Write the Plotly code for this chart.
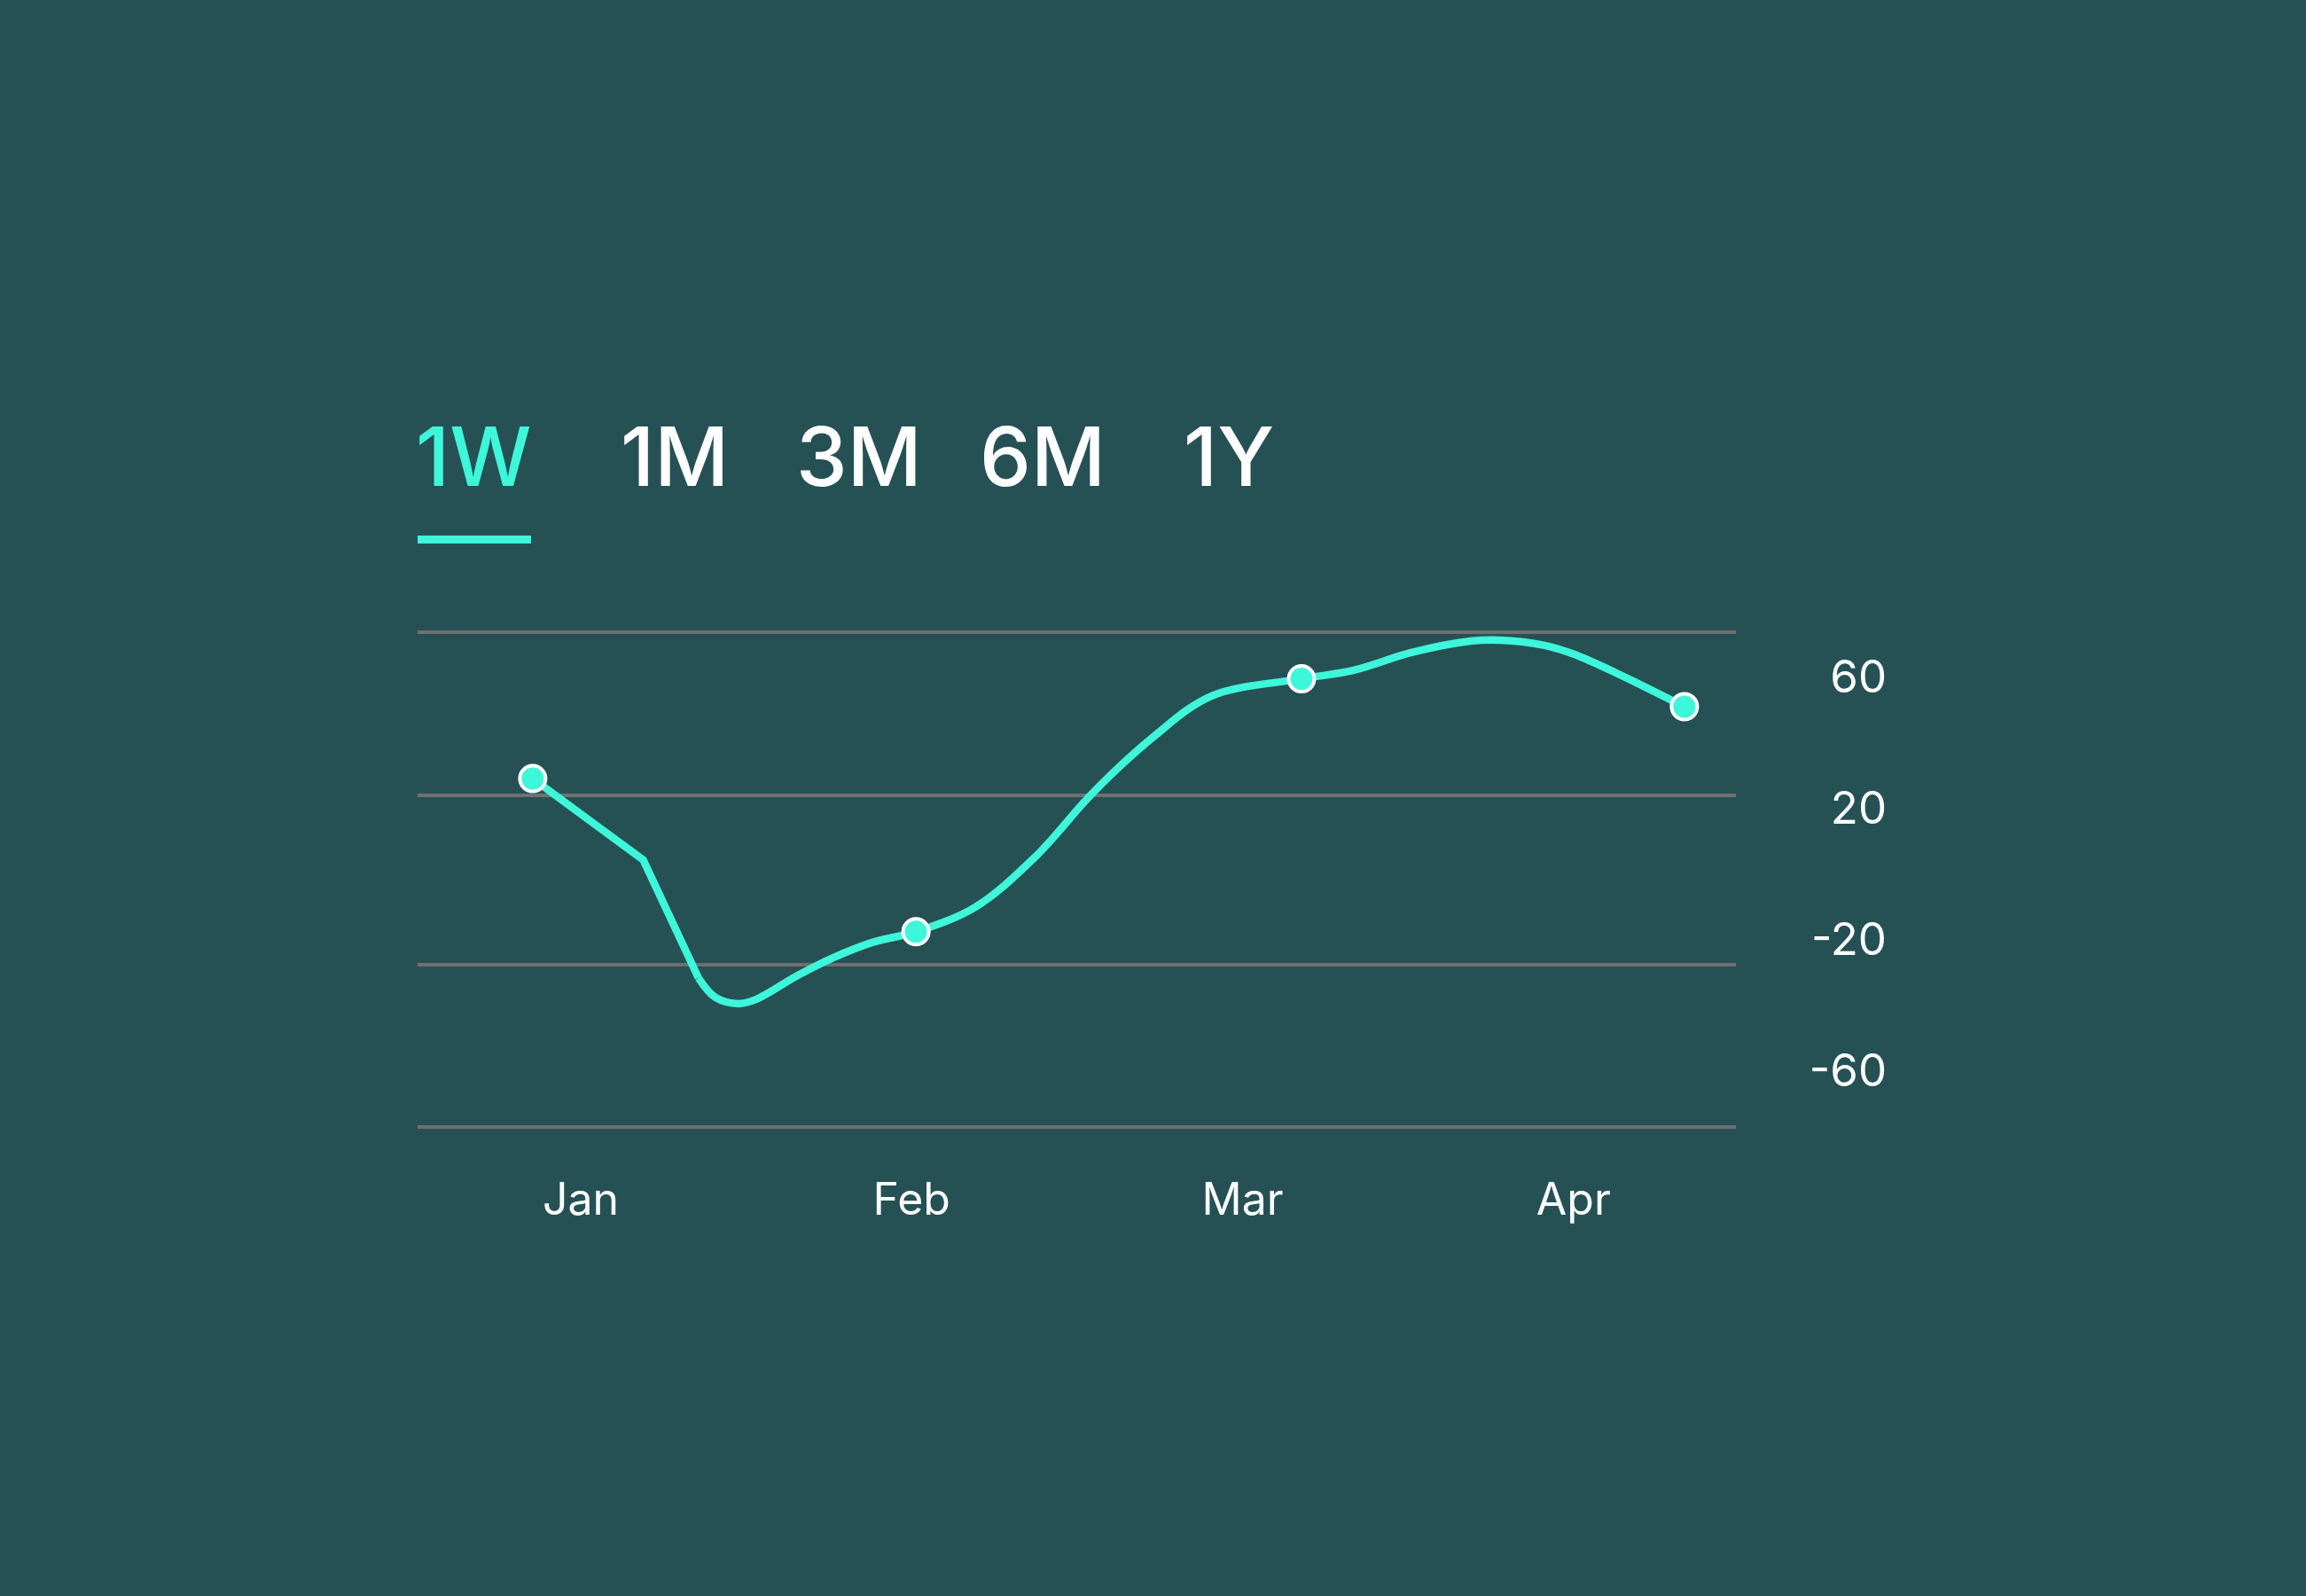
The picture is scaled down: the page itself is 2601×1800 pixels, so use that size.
import plotly.graph_objects as go

# data
months = ["Jan", "Feb", "Mar", "Apr"]
month_pos = [0, 1, 2, 3]

y_ticks = [60, 20, -20, -60]
grid_levels = [73.4, 23.9, -27.7, -77.2]

# first part of the line is straight, the rest is smooth
line_a_x = [-0.145, 0.189, 0.356]
line_a_y = [28.9, 4.1, -31.9]

line_b_x = [0.356, 0.407, 0.477, 0.530, 0.656, 0.763, 0.879, 1.013,
            1.192, 1.372, 1.548, 1.728, 1.907, 2.178,
            2.336, 2.510, 2.689, 2.778, 2.912, 3.001, 3.135, 3.335]
line_b_y = [-31.9, -37.8, -39.7, -38.4, -31.1, -25.7, -21.1, -17.8,
            -10.3, 4.9, 24.6, 41.4, 54.1, 59.3,
            61.9, 67.3, 70.8, 71.1, 69.5, 66.8, 60.8, 50.8]

point_x = [-0.145, 1.013, 2.178, 3.335]
point_y = [28.9, -17.8, 59.3, 50.8]

tabs = ["1W", "1M", "3M", "6M", "1Y"]

bg = "#255155"
aqua = "#3ef7da"
grid = "#707070"

fig = go.Figure()

fig.add_trace(go.Scatter(x = line_a_x, y = line_a_y, mode = "lines",
                         line = dict(color = aqua, width = 8.5, shape = "linear"),
                         hoverinfo = "skip", showlegend = False))
fig.add_trace(go.Scatter(x = line_b_x, y = line_b_y, mode = "lines",
                         line = dict(color = aqua, width = 8.5, shape = "spline", smoothing = 1),
                         hoverinfo = "skip", showlegend = False))
fig.add_trace(go.Scatter(x = point_x, y = point_y, mode = "markers",
                         marker = dict(color = aqua, size = 29, line = dict(color = "white", width = 4)),
                         showlegend = False))

# plot area in pixels: x 471..1958, y 690..1290 ; paper runs to x=2200
y_range = [-82.43, 79.73]
x_range = [-0.4929, 3.4905]

fig.update_layout(
    width = 2601,
    height = 1800,
    paper_bgcolor = bg,
    plot_bgcolor = bg,
    margin = dict(l = 471, r = 401, t = 690, b = 510),
    font = dict(family = "Inter", color = "white"),
    xaxis = dict(domain = [0, 0.86], range = x_range, tickvals = month_pos, ticktext = months,
                 showgrid = False, zeroline = False, showline = False,
                 ticks = "outside", ticklen = 19, tickcolor = "rgba(0,0,0,0)",
                 tickfont = dict(size = 50, color = "white")),
    yaxis = dict(range = y_range, tickvals = y_ticks, ticktext = [str(v) for v in y_ticks],
                 anchor = "free", position = 0.9584, side = "left",
                 showgrid = False, zeroline = False, showline = False, ticks = "",
                 tickfont = dict(size = 51, color = "white")),
    yaxis2 = dict(range = y_range, overlaying = "y", anchor = "x", side = "right",
                  tickvals = grid_levels, showticklabels = False, ticks = "",
                  showgrid = True, gridcolor = grid, gridwidth = 4, zeroline = False, showline = False),
)

# dummy trace so yaxis2 gets drawn with its grid
fig.add_trace(go.Scatter(x = [None], y = [None], yaxis = "y2", showlegend = False, hoverinfo = "skip"))

# range tabs above the chart
tab_x = [534, 761, 969, 1176, 1386]
for i, t in enumerate(tabs):
    fig.add_annotation(text = t, x = (tab_x[i] - 471) / 1729, y = 1.2933,
                       xref = "paper", yref = "paper", showarrow = False,
                       xanchor = "center", yanchor = "middle",
                       font = dict(size = 92, weight = 500, color = aqua if i == 0 else "white"))

# underline of the active tab
fig.add_shape(type = "rect", xref = "paper", yref = "paper",
              x0 = 0, x1 = 0.074, y0 = 1.1283, y1 = 1.1433,
              fillcolor = aqua, line = dict(width = 0))

fig.write_html("out.html", config = {"displayModeBar": False},
               post_script = "document.body.style.margin = '0px';")
